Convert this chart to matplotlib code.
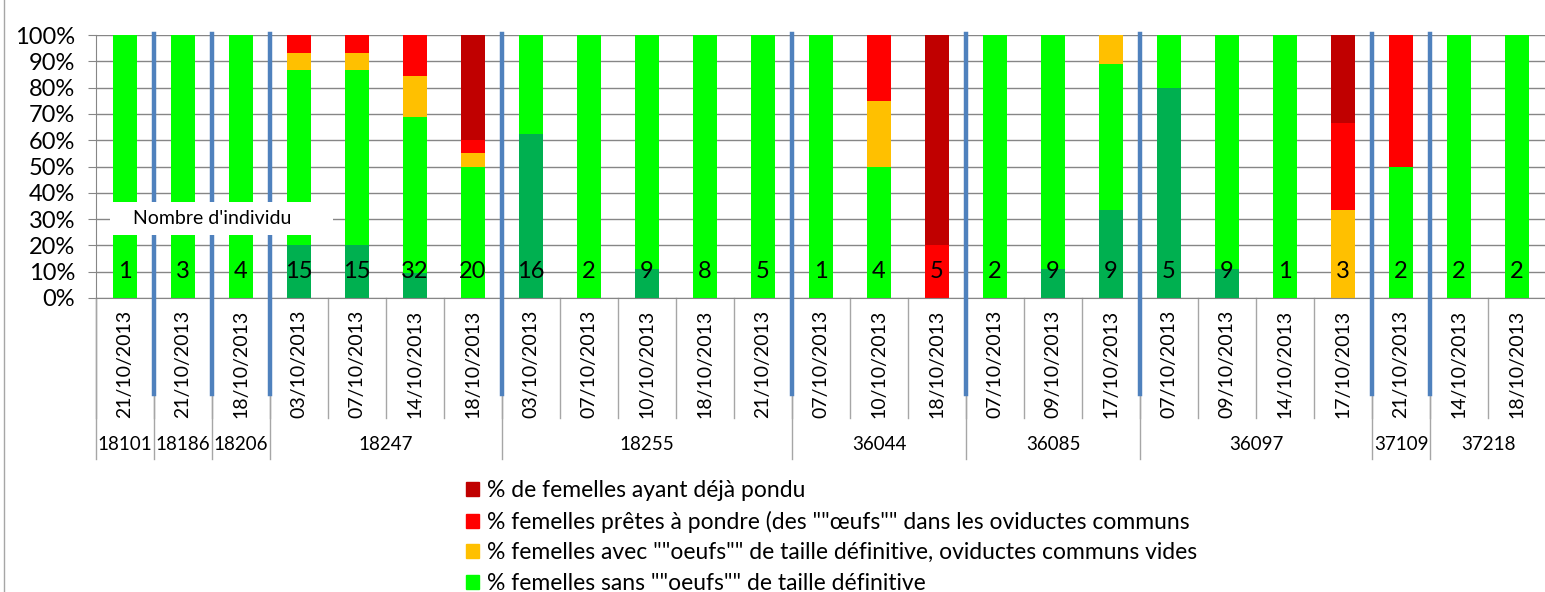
import matplotlib
matplotlib.use("Agg")
import matplotlib.pyplot as plt
import numpy as np
from matplotlib.patches import Patch, Rectangle
from matplotlib.lines import Line2D
from matplotlib.transforms import blended_transform_factory

plt.rcParams['font.family'] = ['Lato', 'DejaVu Sans']

# --- data ---
groups = ['18101', '18186', '18206', '18247', '18255', '36044', '36085', '36097', '37109', '37218']
group_sizes = [1, 1, 1, 4, 5, 3, 3, 4, 1, 2]
dates = ['21/10/2013', '21/10/2013', '18/10/2013',
         '03/10/2013', '07/10/2013', '14/10/2013', '18/10/2013',
         '03/10/2013', '07/10/2013', '10/10/2013', '18/10/2013', '21/10/2013',
         '07/10/2013', '10/10/2013', '18/10/2013',
         '07/10/2013', '09/10/2013', '17/10/2013',
         '07/10/2013', '09/10/2013', '14/10/2013', '17/10/2013',
         '21/10/2013',
         '14/10/2013', '18/10/2013']
n_ind = [1, 3, 4, 15, 15, 32, 20, 16, 2, 9, 8, 5, 1, 4, 5, 2, 9, 9, 5, 9, 1, 3, 2, 2, 2]
dark_green = [0, 0, 0, 20, 20, 9.4, 0, 62.5, 0, 11.1, 0, 0, 0, 0, 0, 0, 11.1, 33.3, 80, 11.1, 0, 0, 0, 0, 0]
green = [100, 100, 100, 66.6, 66.6, 59.4, 50, 37.5, 100, 88.9, 100, 100, 100, 50, 0, 100, 88.9, 55.6, 20, 88.9, 100, 0, 50, 100, 100]
orange = [0, 0, 0, 6.7, 6.7, 15.6, 5, 0, 0, 0, 0, 0, 0, 25, 0, 0, 0, 11.1, 0, 0, 0, 33.3, 0, 0, 0]
red = [0, 0, 0, 6.7, 6.7, 15.6, 5, 0, 0, 0, 0, 0, 0, 25, 20, 0, 0, 0, 0, 0, 0, 33.3, 50, 0, 0]
dark_red = [0, 0, 0, 0, 0, 0, 40, 0, 0, 0, 0, 0, 0, 0, 80, 0, 0, 0, 0, 0, 0, 33.3, 0, 0, 0]
labels = ['% de femelles ayant déjà pondu',
          '% femelles prêtes à pondre (des ""œufs"" dans les oviductes communs',
          '% femelles avec ""oeufs"" de taille définitive, oviductes communs vides',
          '% femelles sans ""oeufs"" de taille définitive']

W, H = 1545, 592
fig = plt.figure(figsize=(W / 100, H / 100), dpi=100)
ax = fig.add_axes([96 / W, 1 - 298 / H, 1450 / W, 263 / H])

x = np.arange(len(dates))
series = [(dark_green, '#00B050'), (green, '#00FF00'), (orange, '#FFC000'),
          (red, '#FF0000'), (dark_red, '#C00000')]
bottom = np.zeros(len(dates))
for vals, col in series:
    ax.bar(x, vals, width=0.4, bottom=bottom, color=col, zorder=2)
    bottom += np.array(vals)

# count labels
for xi, n in zip(x, n_ind):
    ax.text(xi, 10, str(n), ha='center', va='center', fontsize=17, zorder=4)

ax.set_xlim(-0.5, len(dates) - 0.5)
ax.set_ylim(0, 100)
ax.set_yticks(np.arange(0, 101, 10))
ax.set_yticklabels([f'{v}%' for v in range(0, 101, 10)], fontsize=17)
ax.tick_params(axis='y', length=6, color='#868686', pad=9)
ax.set_xticks([])
ax.yaxis.grid(True, color='#868686', linewidth=1.0, zorder=0)
ax.set_axisbelow(True)
for s in ['top', 'right']:
    ax.spines[s].set_visible(False)
ax.spines['left'].set_color('#868686')
ax.spines['bottom'].set_color('#868686')

# "Nombre d'individu" box (sits above the blue separators)
ax.add_patch(Rectangle((-0.26, 24.0), 3.85, 12.5, facecolor='white', edgecolor='none', zorder=8))
ax.text(1.5, 30.2, "Nombre d'individu", ha='center', va='center', fontsize=14, zorder=9)

# two-level category axis
tr = blended_transform_factory(ax.transData, fig.transFigure)
for xi, d in zip(x, dates):
    ax.text(xi, 1 - 364 / H, d, rotation=90, ha='center', va='center', fontsize=14, transform=tr)
for b in np.arange(len(dates) + 1) - 0.5:
    ax.add_line(Line2D([b, b], [1 - 298 / H, 1 - 418 / H], color='#A6A6A6', lw=1, transform=tr, clip_on=False))
edges = np.concatenate([[0], np.cumsum(group_sizes)]) - 0.5
for g, a, b in zip(groups, edges[:-1], edges[1:]):
    ax.text((a + b) / 2, 1 - 445 / H, g, ha='center', va='center', fontsize=13.5, transform=tr)
for b in edges:
    ax.add_line(Line2D([b, b], [1 - 298 / H, 1 - 459 / H], color='#A6A6A6', lw=1, transform=tr, clip_on=False))

# blue group separators
for b in edges[1:-1]:
    ax.add_line(Line2D([b, b], [1 - 34 / H, 1 - 394 / H], color='#4F81BD', lw=3.2, transform=tr,
                       clip_on=False, zorder=7))

# chart frame (left edge)
fig.add_artist(Line2D([4 / W, 4 / W], [0, 1], color='#A6A6A6', lw=1))

handles = [Patch(color='#C00000'), Patch(color='#FF0000'), Patch(color='#FFC000'), Patch(color='#00FF00')]
fig.legend(handles, labels, loc='upper left', bbox_to_anchor=(466 / W, 1 - 480 / H), frameon=False,
           fontsize=16.5, handlelength=0.55, handleheight=0.55, handletextpad=0.35, labelspacing=0.42,
           borderaxespad=0, borderpad=0)

fig.savefig('out.png', dpi=100)
